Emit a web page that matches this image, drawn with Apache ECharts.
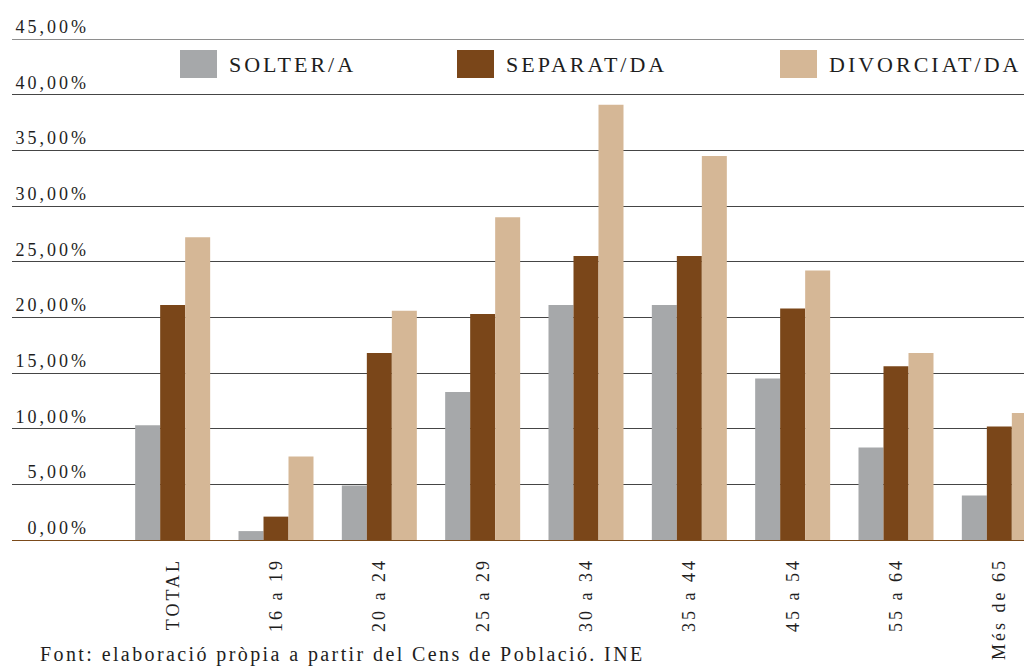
<!DOCTYPE html>
<html>
<head>
<meta charset="utf-8">
<title>Estat civil per edat</title>
<script src="https://cdn.jsdelivr.net/npm/echarts@6/dist/echarts.min.js"></script>
<style>
    html, body { margin: 0; padding: 0; background: #fff; }
    #chart { width: 1024px; height: 666px; }
    /* el text original va espaiat */
    #chart text { letter-spacing: 3px; }
    /* la nota de la font, menys espaiada */
    #chart text[style*="20px"] { letter-spacing: 2.4px; }
</style>
</head>
<body>
<div id="chart"></div>
<script>
// categories i valors (%)
const categories = ['TOTAL', '16 a 19', '20 a 24', '25 a 29', '30 a 34', '35 a 44', '45 a 54', '55 a 64', 'Més de 65'];
const solter = [10.3, 0.8, 4.9, 13.3, 21.1, 21.1, 14.5, 8.3, 4.0];
const separat = [21.1, 2.1, 16.8, 20.3, 25.5, 25.5, 20.8, 15.6, 10.2];
const divorciat = [27.2, 7.5, 20.6, 29.0, 39.1, 34.5, 24.2, 16.8, 11.4];
const seriesNames = ['SOLTER/A', 'SEPARAT/DA', 'DIVORCIAT/DA'];
const colors = ['#a6a8aa', '#7a4619', '#d5b796'];
const legendLeft = [180, 457, 780];

const font = '"Liberation Serif", "DejaVu Serif", serif';

const chart = echarts.init(document.getElementById('chart'), null, { renderer: 'svg' });

// colors de les línies: 0 marró, intermèdies fosques, la de dalt més clara
const lineColors = ['#7b4a1a', '#454545', '#454545', '#454545', '#454545', '#454545', '#454545', '#454545', '#454545', '#8e8e8e'];

const option = {
    backgroundColor: '#fff',
    animation: false,
    textStyle: { fontFamily: font, color: '#1e1e1e' },
    title: {
        text: 'Font: elaboració pròpia a partir del Cens de Població. INE',
        left: 40,
        top: 644,
        padding: 0,
        textStyle: { fontFamily: font, fontSize: 20, fontWeight: 'normal', color: '#1e1e1e' }
    },
    legend: seriesNames.map((name, i) => ({
        data: [name],
        left: legendLeft[i],
        top: 50,
        padding: 0,
        itemWidth: 37,
        itemHeight: 28,
        icon: 'rect',
        selectedMode: false,
        textStyle: { fontFamily: font, fontSize: 22, color: '#1e1e1e', padding: [0, 0, 0, 7] }
    })),
    grid: [
        // el gràfic continua més enllà de la vora dreta
        { left: 121, width: 930, top: 39, bottom: 126, outerBoundsMode: 'none' },
        // graella ampla només per a les línies horitzontals
        { left: 12, right: 0, top: 39, bottom: 126, outerBoundsMode: 'none' }
    ],
    xAxis: [
        {
            type: 'category',
            gridIndex: 0,
            data: categories,
            axisLine: { show: false },
            axisTick: { show: false },
            axisLabel: {
                interval: 0,
                rotate: 90,
                margin: 18,
                fontFamily: font,
                fontSize: 18,
                color: '#1e1e1e'
            }
        },
        { type: 'value', gridIndex: 1, show: false, min: 0, max: 1 }
    ],
    yAxis: [
        {
            type: 'value',
            gridIndex: 0,
            min: 0,
            max: 45,
            interval: 5,
            axisLine: { show: false },
            axisTick: { show: false },
            splitLine: { show: false },
            axisLabel: {
                margin: 32,
                verticalAlign: 'bottom',
                padding: [0, 0, 3, 0],
                fontFamily: font,
                fontSize: 18,
                color: '#1e1e1e',
                formatter: v => v.toFixed(2).replace('.', ',') + '%'
            }
        },
        {
            type: 'value',
            gridIndex: 1,
            min: 0,
            max: 45,
            interval: 5,
            axisLine: { show: false },
            axisTick: { show: false },
            axisLabel: { show: false },
            splitLine: { lineStyle: { color: lineColors, width: 1.2 } }
        }
    ],
    series: [solter, separat, divorciat].map((values, i) => ({
        name: seriesNames[i],
        type: 'bar',
        xAxisIndex: 0,
        yAxisIndex: 0,
        data: values,
        barWidth: 25,
        barGap: '0%',
        itemStyle: { color: colors[i] }
    }))
};

chart.setOption(option);
</script>
</body>
</html>
